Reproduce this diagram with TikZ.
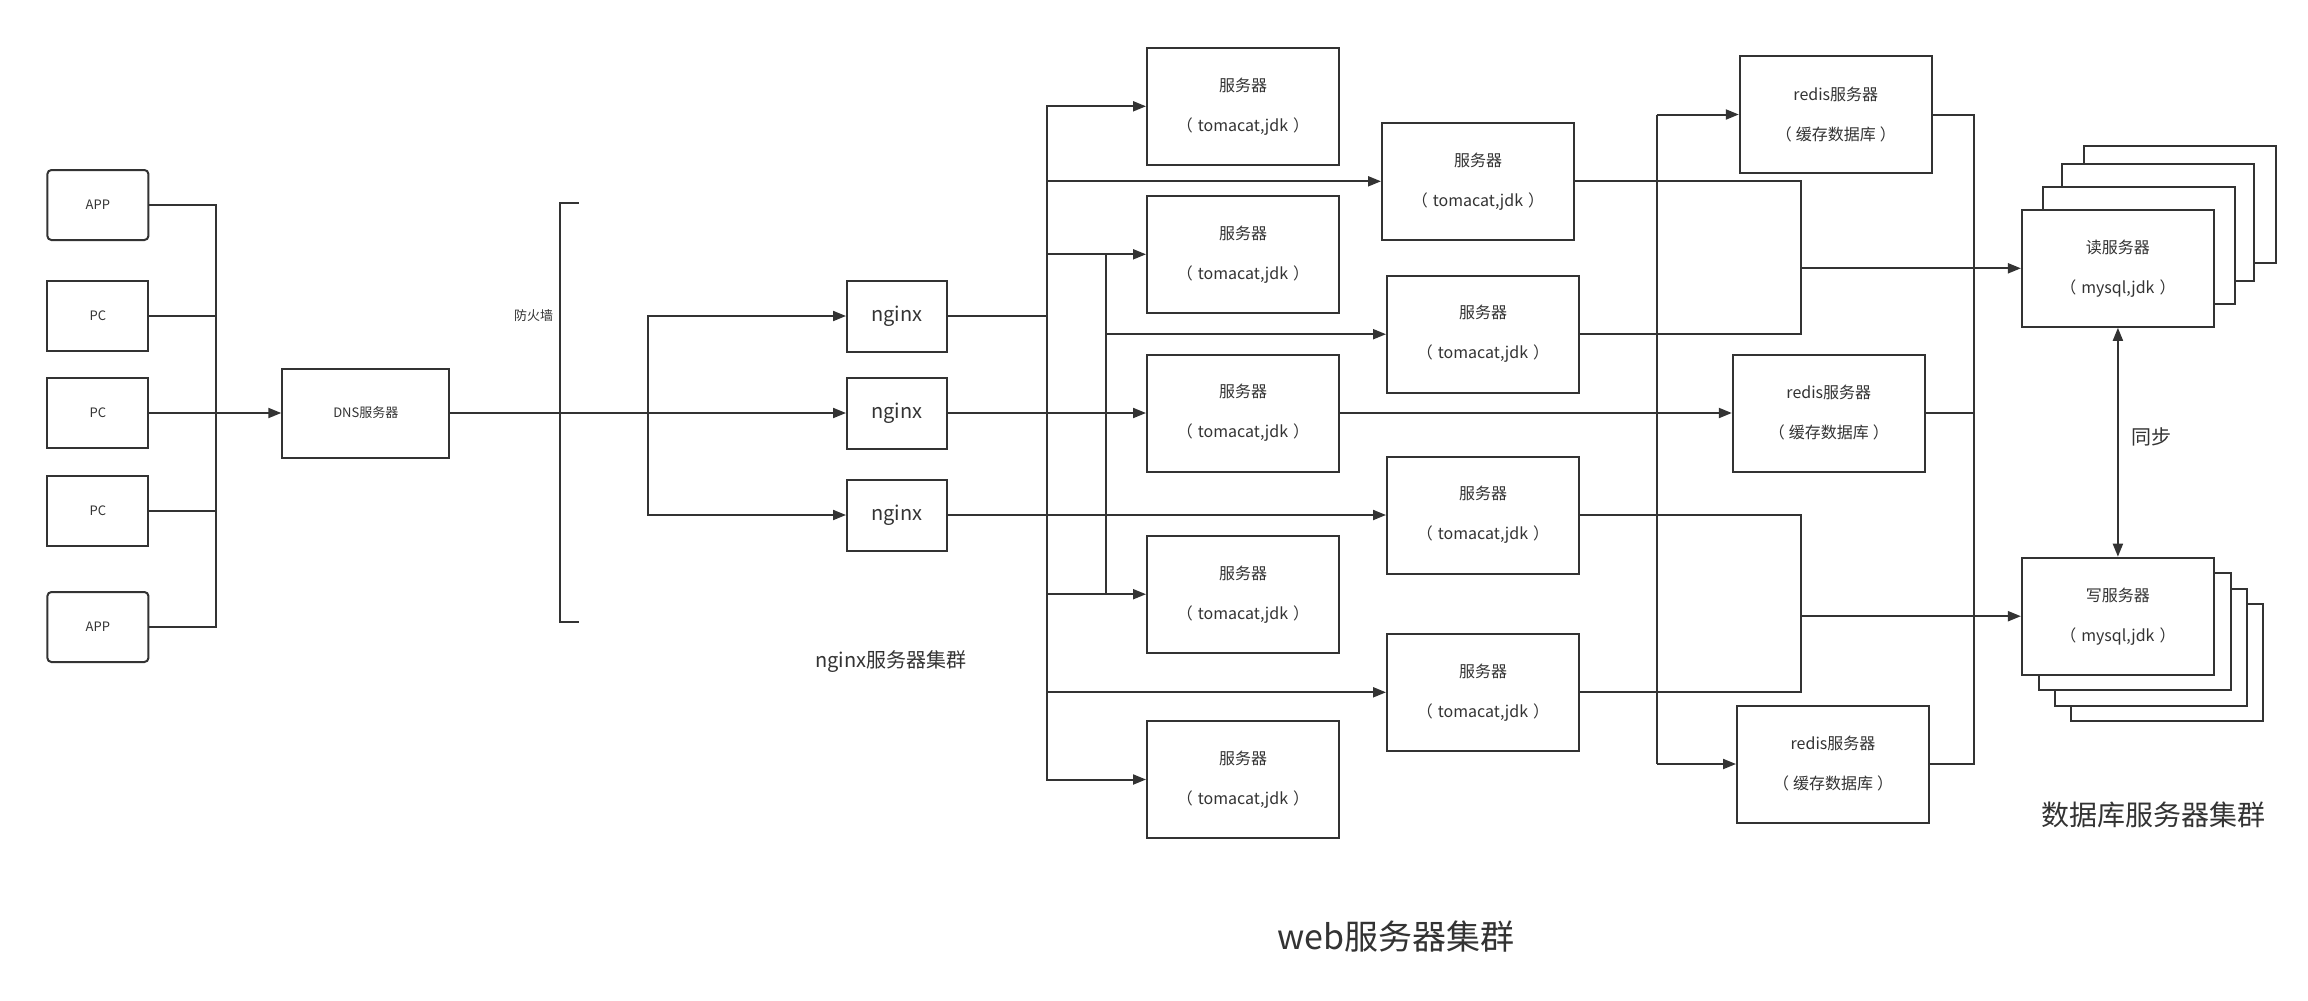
\documentclass[tikz,border=0pt]{standalone}
\usepackage{fontspec}
\setmainfont{Noto Sans CJK SC}
\usetikzlibrary{arrows.meta}
\definecolor{ink}{HTML}{333333}
\newcommand{\pgap}{\hspace{5bp}}
\begin{document}
\begin{tikzpicture}[x=1bp,y=-1bp,color=ink,
  box/.style={draw, fill=white, rectangle, inner sep=0pt, line width=2bp},
  clientbox/.style={box, minimum width=101bp, minimum height=70bp, font=\fontsize{13bp}{15bp}\selectfont},
  appbox/.style={clientbox, rounded corners=4bp},
  dnsbox/.style={box, minimum width=167bp, minimum height=89bp, font=\fontsize{13bp}{15bp}\selectfont},
  ngbox/.style={box, minimum width=100bp, minimum height=71bp, font=\fontsize{20bp}{24bp}\selectfont},
  srvbox/.style={box, minimum width=192bp, minimum height=117bp, align=center, font=\fontsize{16bp}{40bp}\selectfont},
  conn/.style={line width=2bp},
  arr/.style={conn, -{Triangle[length=13bp,width=10bp]}},
  arrboth/.style={conn, {Triangle[length=13bp,width=10bp]}-{Triangle[length=13bp,width=10bp]}},
  lbl/.style={inner sep=0pt}
]
\useasboundingbox (0,0) rectangle (2308,1000);
\fill[white] (0,0) rectangle (2308,1000);

% clients
\node[appbox] (app1) at (97.9,205) {APP};
\node[clientbox] (pc1) at (97.9,316) {PC};
\node[clientbox] (pc2) at (97.9,413) {PC};
\node[clientbox] (pc3) at (97.9,511) {PC};
\node[appbox] (app2) at (97.9,627) {APP};
\node[dnsbox] (dns) at (365.8,413) {DNS服务器};

% firewall
\coordinate (fwT) at (578.5,203);
\coordinate (fwB) at (578.5,622);
\draw[conn] (fwT) -- (560.3,203) -- (560.3,622) -- (fwB);
\node[lbl, font=\fontsize{13bp}{15bp}\selectfont] (fwl) at (533.5,316) {防火墙};

% nginx
\node[ngbox] (ng1) at (897,316) {nginx};
\node[ngbox] (ng2) at (897,413) {nginx};
\node[ngbox] (ng3) at (897,515) {nginx};
\node[lbl, font=\fontsize{20bp}{24bp}\selectfont] (nglbl) at (891,662) {nginx服务器集群};

% web servers
\node[srvbox] (s1) at (1243,106.3) {服务器\\（\pgap tomacat,jdk\pgap）};
\node[srvbox] (s3) at (1243,254.3) {服务器\\（\pgap tomacat,jdk\pgap）};
\node[srvbox] (s5) at (1243,413) {服务器\\（\pgap tomacat,jdk\pgap）};
\node[srvbox] (s7) at (1243,594.2) {服务器\\（\pgap tomacat,jdk\pgap）};
\node[srvbox] (s9) at (1243,779.5) {服务器\\（\pgap tomacat,jdk\pgap）};
\node[srvbox] (s2) at (1478,181.3) {服务器\\（\pgap tomacat,jdk\pgap）};
\node[srvbox] (s4) at (1483,334.2) {服务器\\（\pgap tomacat,jdk\pgap）};
\node[srvbox] (s6) at (1483,515) {服务器\\（\pgap tomacat,jdk\pgap）};
\node[srvbox] (s8) at (1483,692.3) {服务器\\（\pgap tomacat,jdk\pgap）};
\node[lbl, font=\fontsize{34bp}{40bp}\selectfont] (weblbl) at (1396,937) {web服务器集群};

% redis
\node[srvbox] (r1) at (1835.8,114.5) {redis服务器\\（\hspace{4bp}缓存数据库\hspace{4bp}）};
\node[srvbox] (r2) at (1828.8,413) {redis服务器\\（\hspace{4bp}缓存数据库\hspace{4bp}）};
\node[srvbox] (r3) at (1833,764) {redis服务器\\（\hspace{4bp}缓存数据库\hspace{4bp}）};

% read db stack
\node[srvbox] (rdb3) at (2179.8,204.2) {};
\node[srvbox] (rdb2) at (2158,222.2) {};
\node[srvbox] (rdb1) at (2138.7,245.3) {};
\node[srvbox] (rd) at (2117.9,268.3) {读服务器\\（\pgap mysql,jdk\pgap）};
% write db stack
\node[srvbox] (wrb3) at (2166.6,662.2) {};
\node[srvbox] (wrb2) at (2150.8,647.4) {};
\node[srvbox] (wrb1) at (2134.8,631.2) {};
\node[srvbox] (wr) at (2117.9,616.2) {写服务器\\（\pgap mysql,jdk\pgap）};
\node[lbl, font=\fontsize{20bp}{24bp}\selectfont] (synclbl) at (2151.5,437) {同步};
\node[lbl, font=\fontsize{28bp}{34bp}\selectfont] (dblbl) at (2153,815) {数据库服务器集群};

% clients -> dns
\coordinate (cb) at (215.5,413);
\draw[conn] (app1.east) -| (cb);
\draw[conn] (app2.east) -| (cb);
\draw[conn] (pc1.east) -- (pc1.east -| cb);
\draw[conn] (pc3.east) -- (pc3.east -| cb);
\draw[arr] (pc2.east) -- (dns.west);

% dns -> nginx
\coordinate (ns) at (648,413);
\draw[arr] (dns.east) -- (ng2.west);
\draw[arr] (ns) |- (ng1.west);
\draw[arr] (ns) |- (ng3.west);

% nginx -> web
\coordinate (wb) at (1047,316);
\draw[conn] (ng1.east) -- (wb);
\draw[arr] (wb) |- (s1.west);
\draw[arr] (wb) |- (s2.west);
\draw[arr] (wb) |- (s3.west);
\draw[arr] (wb) |- (s7.west);
\draw[arr] (wb) |- (s8.west);
\draw[arr] (wb) |- (s9.west);
\coordinate (wb2a) at (1105.5,254.3);
\coordinate (wb2b) at (1105.5,594.2);
\draw[conn] (wb2a) -- (wb2b);
\draw[arr] (s4.west -| wb2a) -- (s4.west);
\draw[arr] (ng2.east) -- (s5.west);
\draw[arr] (ng3.east) -- (s6.west);

% web -> redis
\coordinate (rb1) at (1656.5,114.5);
\coordinate (rb2) at (1656.5,764);
\draw[conn] (rb1) -- (rb2);
\draw[arr] (rb1) -- (r1.west);
\draw[arr] (rb2) -- (r3.west);
\draw[arr] (s5.east) -- (r2.west);
\coordinate (rr1) at (1973.5,114.5);
\coordinate (rr2) at (1973.5,764);
\draw[conn] (r1.east) -- (rr1) -- (rr2) -- (r3.east);
\draw[conn] (r2.east) -- (r2.east -| rr1);

% web -> db
\coordinate (m1) at (1800.5,268.3);
\coordinate (m2) at (1800.5,616.2);
\draw[conn] (s2.east) -| (m1);
\draw[conn] (s4.east) -| (m1);
\draw[arr] (m1) -- (rd.west);
\draw[conn] (s6.east) -| (m2);
\draw[conn] (s8.east) -| (m2);
\draw[arr] (m2) -- (wr.west);

% sync
\draw[arrboth] (rd.south) -- (wr.north);
\end{tikzpicture}
\end{document}
